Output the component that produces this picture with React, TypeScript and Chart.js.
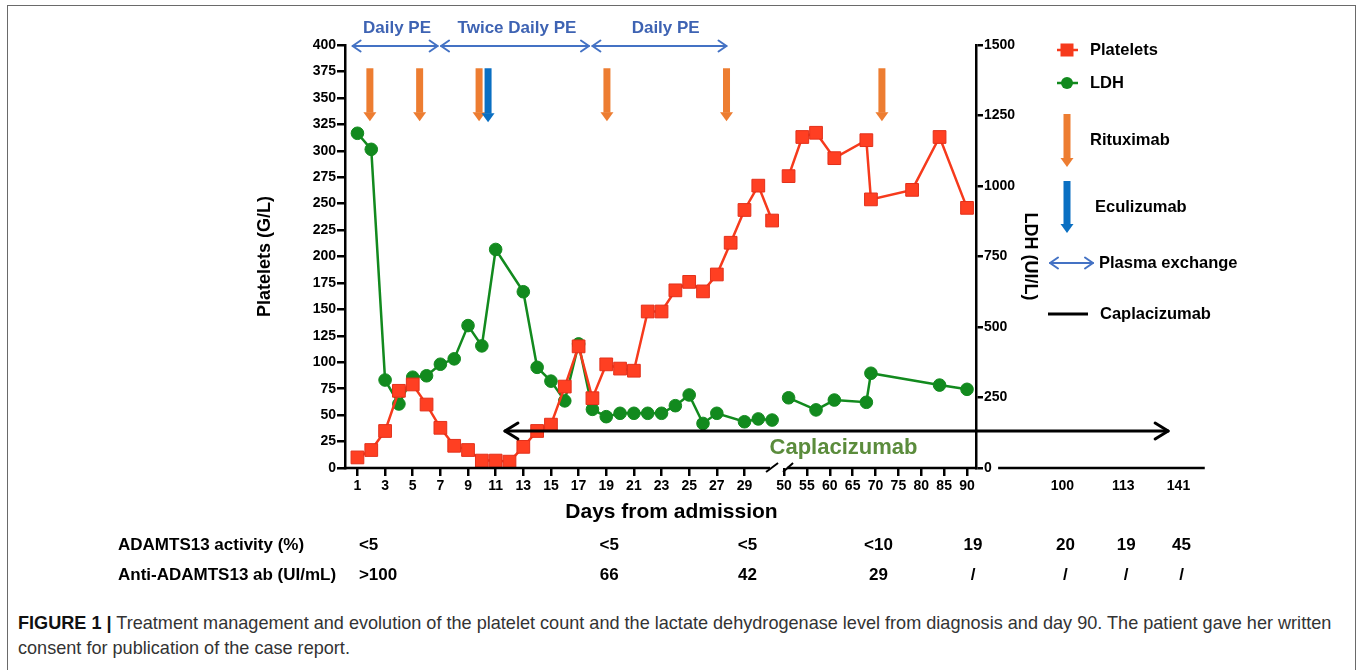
import React, { useEffect, useRef } from "react";
import { Chart, registerables } from "chart.js";

Chart.register(...registerables);

const FONT = '"Liberation Sans", Arial, Helvetica, sans-serif';

// ---------------- data ----------------
const PLT_DAYS = [1, 2, 3, 4, 5, 6, 7, 8, 9, 10, 11, 12, 13, 14, 15, 16, 17, 18, 19, 20, 21, 22, 23, 24, 25, 26, 27, 28, 29, 30, 31, 51, 54, 57, 61, 68, 69, 78, 84, 90];
const PLT_VALUES = [10, 17, 35, 73, 79, 60, 38, 21, 17, 7, 7, 6, 20, 35, 41, 77, 115, 66, 98, 94, 92, 148, 148, 168, 176, 167, 183, 213, 244, 267, 234, 276, 313, 317, 293, 310, 254, 263, 313, 246];
const LDH_DAYS = [1, 2, 3, 4, 5, 6, 7, 8, 9, 10, 11, 13, 14, 15, 16, 17, 18, 19, 20, 21, 22, 23, 24, 25, 26, 27, 29, 30, 31, 51, 57, 61, 68, 69, 84, 90];
const LDH_VALUES = [1187, 1130, 312, 227, 322, 327, 368, 387, 505, 433, 775, 625, 357, 308, 238, 440, 208, 182, 194, 194, 194, 194, 221, 259, 158, 194, 164, 174, 170, 249, 206, 241, 233, 336, 294, 279];

const X_TICK_DAYS = [1, 3, 5, 7, 9, 11, 13, 15, 17, 19, 21, 23, 25, 27, 29, 50, 55, 60, 65, 70, 75, 80, 85, 90];
const EXT_TICK_DAYS = [100, 113, 141];

const RITUXIMAB_DAYS = [1.9, 5.5, 9.8, 19.05, 27.7, 71.4];
const ECULIZUMAB_DAYS = [10.45];

const PE_FROM = [0.65, 7.05, 18.0];
const PE_TO = [6.8, 17.75, 27.7];
const PE_LABELS = ["Daily PE", "Twice Daily PE", "Daily PE"];
const PE_LABEL_DAYS = [3.86, 12.54, 23.3];

const CAPLA_START_DAY = 11.67;

const TABLE_ROW_LABELS = ["ADAMTS13 activity (%)", "Anti-ADAMTS13 ab (UI/mL)"];
const TABLE_DAYS = [1, 19, 29, 70, 90, 100, 113, 141];
const ADAMTS13_ACTIVITY = ["<5", "<5", "<5", "<10", "19", "20", "19", "45"];
const ANTI_ADAMTS13 = [">100", "66", "42", "29", "/", "/", "/", "/"];

// ---------------- axis mapping (broken time axis) ----------------
const LATE_START_U = 31.86;
const LATE_DAY_U = 0.331;
const EXT_U: Record<number, number> = { 100: 52.0, 113: 56.4, 141: 60.4 };
const X_MIN_U = 0.1;
const X_MAX_U = 45.75;
const BREAK_LEFT_U = 30.85;
const BREAK_RIGHT_U = 32.08;
const GAP_U = 31.4;
const EXT_LINE_FROM_U = 47.35;
const EXT_LINE_TO_U = 62.3;
const CAPLA_END_U = 59.65;

function dayToU(d: number): number {
  if (EXT_U[d] !== undefined) return EXT_U[d];
  return d <= 31 ? d : LATE_START_U + (d - 50) * LATE_DAY_U;
}

function buildSeries(days: number[], values: number[]) {
  const pts: { x: number; y: number | null }[] = [];
  days.forEach((d, i) => {
    if (i > 0 && days[i - 1] <= 31 && d >= 50) pts.push({ x: GAP_U, y: null });
    pts.push({ x: dayToU(d), y: values[i] });
  });
  return pts;
}

const RED = "#F63A1C";
const GREEN = "#128A1E";
const ORANGE = "#ED7D31";
const BLUE = "#0A6FC2";
const PE_BLUE = "#4472C4";

function thickArrow(ctx: CanvasRenderingContext2D, x: number, y0: number, y1: number, color: string) {
  const shaftW = 7, headW = 13, headL = 9;
  ctx.fillStyle = color;
  ctx.fillRect(x - shaftW / 2, y0, shaftW, y1 - y0 - headL + 0.5);
  ctx.beginPath();
  ctx.moveTo(x - headW / 2, y1 - headL);
  ctx.lineTo(x + headW / 2, y1 - headL);
  ctx.lineTo(x, y1);
  ctx.closePath();
  ctx.fill();
}

function doubleArrow(ctx: CanvasRenderingContext2D, x1: number, x2: number, y: number, color: string, lw: number, len: number, half: number) {
  ctx.save();
  ctx.strokeStyle = color;
  ctx.lineWidth = lw;
  ctx.lineCap = "round";
  ctx.lineJoin = "round";
  ctx.beginPath();
  ctx.moveTo(x1, y);
  ctx.lineTo(x2, y);
  ctx.stroke();
  ctx.beginPath();
  ctx.moveTo(x1 + len, y - half);
  ctx.lineTo(x1, y);
  ctx.lineTo(x1 + len, y + half);
  ctx.stroke();
  ctx.beginPath();
  ctx.moveTo(x2 - len, y - half);
  ctx.lineTo(x2, y);
  ctx.lineTo(x2 - len, y + half);
  ctx.stroke();
  ctx.restore();
}

const overlayPlugin = {
  id: "overlay",
  afterDraw(chart: any) {
    const { ctx, chartArea: ca } = chart;
    const xs = chart.scales.x;
    const ys = chart.scales.y;
    const XU = (u: number) => xs.getPixelForValue(u);
    const X = (d: number) => xs.getPixelForValue(dayToU(d));
    const Y = (v: number) => ys.getPixelForValue(v);
    ctx.save();

    // broken x axis line
    ctx.strokeStyle = "#000";
    ctx.lineWidth = 2.5;
    const bL = XU(BREAK_LEFT_U);
    const bR = XU(BREAK_RIGHT_U);
    ctx.beginPath();
    ctx.moveTo(ca.left - 1.25, ca.bottom);
    ctx.lineTo(bL, ca.bottom);
    ctx.moveTo(bR, ca.bottom);
    ctx.lineTo(ca.right + 1.25, ca.bottom);
    ctx.stroke();
    ctx.lineWidth = 2;
    ctx.beginPath();
    ctx.moveTo(bL - 4, ca.bottom + 4);
    ctx.lineTo(bL + 8, ca.bottom - 5);
    ctx.moveTo(bR - 4, ca.bottom + 4);
    ctx.lineTo(bR + 6, ca.bottom - 5);
    ctx.stroke();

    // extended time line beyond day 90
    ctx.lineWidth = 2.5;
    ctx.beginPath();
    ctx.moveTo(XU(EXT_LINE_FROM_U), ca.bottom);
    ctx.lineTo(XU(EXT_LINE_TO_U), ca.bottom);
    ctx.stroke();
    ctx.fillStyle = "#000";
    ctx.font = `bold 14px ${FONT}`;
    ctx.textAlign = "center";
    ctx.textBaseline = "middle";
    EXT_TICK_DAYS.forEach((d) => ctx.fillText(String(d), X(d), ca.bottom + 18.5));

    // x title
    ctx.font = `bold 21px ${FONT}`;
    ctx.fillText("Days from admission", (ca.left + ca.right) / 2 + 11, ca.bottom + 44);

    // caplacizumab arrow
    const cy = Y(35);
    doubleArrow(ctx, X(CAPLA_START_DAY), XU(CAPLA_END_U), cy, "#000", 3, 13, 8);
    ctx.fillStyle = "#5B8C3C";
    ctx.font = `bold 22px ${FONT}`;
    ctx.textAlign = "center";
    ctx.fillText("Caplacizumab", X(63), Y(19));

    // plasma exchange periods
    PE_FROM.forEach((f, i) => {
      doubleArrow(ctx, X(f), X(PE_TO[i]), ca.top + 1, PE_BLUE, 2, 8, 5.5);
    });
    ctx.fillStyle = "#3E63B3";
    ctx.font = `bold 17px ${FONT}`;
    PE_LABELS.forEach((t, i) => ctx.fillText(t, X(PE_LABEL_DAYS[i]), ca.top - 17));

    // treatment arrows
    RITUXIMAB_DAYS.forEach((d) => thickArrow(ctx, X(d), Y(378), Y(328), ORANGE));
    ECULIZUMAB_DAYS.forEach((d) => thickArrow(ctx, X(d), Y(378), Y(327), BLUE));

    // legend
    const lx = ca.right + 91;
    const tx = ca.right + 114;
    ctx.lineWidth = 2.5;
    ctx.strokeStyle = RED;
    ctx.beginPath();
    ctx.moveTo(lx - 10, ca.top + 5);
    ctx.lineTo(lx + 11, ca.top + 5);
    ctx.stroke();
    ctx.fillStyle = RED;
    ctx.fillRect(lx - 6.5, ca.top + 5 - 6.5, 13, 13);
    ctx.strokeStyle = GREEN;
    ctx.beginPath();
    ctx.moveTo(lx - 10, ca.top + 38);
    ctx.lineTo(lx + 11, ca.top + 38);
    ctx.stroke();
    ctx.fillStyle = GREEN;
    ctx.beginPath();
    ctx.arc(lx, ca.top + 38, 6, 0, Math.PI * 2);
    ctx.fill();
    thickArrow(ctx, lx, ca.top + 69, ca.top + 122, ORANGE);
    thickArrow(ctx, lx, ca.top + 136, ca.top + 188, BLUE);
    doubleArrow(ctx, lx - 17, lx + 26, ca.top + 218, PE_BLUE, 2, 8, 5.5);
    ctx.strokeStyle = "#000";
    ctx.lineWidth = 3;
    ctx.beginPath();
    ctx.moveTo(lx - 19, ca.top + 269);
    ctx.lineTo(lx + 21, ca.top + 269);
    ctx.stroke();

    ctx.fillStyle = "#000";
    ctx.font = `bold 16.5px ${FONT}`;
    ctx.textAlign = "left";
    ctx.fillText("Platelets", tx, ca.top + 5);
    ctx.fillText("LDH", tx, ca.top + 38);
    ctx.fillText("Rituximab", tx, ca.top + 95);
    ctx.fillText("Eculizumab", tx + 5, ca.top + 162);
    ctx.fillText("Plasma exchange", tx + 9, ca.top + 218);
    ctx.fillText("Caplacizumab", tx + 10, ca.top + 269);

    // table under the axis
    ctx.font = `bold 17px ${FONT}`;
    const rowY = [ca.bottom + 77, ca.bottom + 107];
    TABLE_ROW_LABELS.forEach((t, i) => {
      ctx.textAlign = "left";
      ctx.fillText(t, 118, rowY[i]);
    });
    [ADAMTS13_ACTIVITY, ANTI_ADAMTS13].forEach((row, r) => {
      row.forEach((v, i) => {
        if (i === 0) {
          ctx.textAlign = "left";
          ctx.fillText(v, X(TABLE_DAYS[i]) + 1.5, rowY[r]);
        } else {
          ctx.textAlign = "center";
          ctx.fillText(v, X(TABLE_DAYS[i]) + (TABLE_DAYS[i] === 90 ? 6 : 3), rowY[r]);
        }
      });
    });
    ctx.restore();
  },
};

export default function App() {
  const canvasRef = useRef<HTMLCanvasElement | null>(null);

  useEffect(() => {
    const canvas = canvasRef.current;
    if (!canvas) return;
    const tickFont = { family: FONT, size: 14, weight: "bold" as const };
    const titleFont = { family: FONT, size: 18, weight: "bold" as const };
    const chart = new Chart(canvas, {
      type: "line",
      data: {
        datasets: [
          {
            label: "Platelets",
            data: buildSeries(PLT_DAYS, PLT_VALUES) as any,
            yAxisID: "y",
            borderColor: RED,
            borderWidth: 2.5,
            pointStyle: "rect",
            pointRadius: 9,
            pointBackgroundColor: "#FF3F22",
            pointBorderColor: "#E3301A",
            pointBorderWidth: 1,
            tension: 0,
            spanGaps: false,
          },
          {
            label: "LDH",
            data: buildSeries(LDH_DAYS, LDH_VALUES) as any,
            yAxisID: "y1",
            borderColor: GREEN,
            borderWidth: 2.5,
            pointStyle: "circle",
            pointRadius: 6.3,
            pointBackgroundColor: GREEN,
            pointBorderColor: GREEN,
            pointBorderWidth: 1,
            tension: 0,
            spanGaps: false,
          },
        ],
      },
      options: {
        responsive: false,
        animation: false,
        devicePixelRatio: 1,
        layout: { padding: { left: 250, right: 312, top: 45, bottom: 73 } },
        plugins: { legend: { display: false }, tooltip: { enabled: false } },
        scales: {
          x: {
            type: "linear",
            min: X_MIN_U,
            max: X_MAX_U,
            afterBuildTicks: (scale: any) => {
              scale.ticks = X_TICK_DAYS.map((d) => ({ value: dayToU(d) }));
            },
            afterFit: (scale: any) => {
              scale.height = 59;
            },
            ticks: {
              autoSkip: false,
              maxRotation: 0,
              color: "#000",
              font: tickFont,
              padding: 2,
              callback: (_v: any, i: number) => String(X_TICK_DAYS[i]),
            },
            grid: { drawOnChartArea: false, drawTicks: true, tickLength: 8, lineWidth: 2.5, color: "#000" },
            border: { display: false },
          },
          y: {
            position: "left",
            min: 0,
            max: 400,
            afterFit: (scale: any) => {
              scale.width = 95;
            },
            ticks: { stepSize: 25, autoSkip: false, color: "#000", font: tickFont, padding: 1, callback: (v: any) => String(v) },
            grid: { drawOnChartArea: false, drawTicks: true, tickLength: 8, lineWidth: 2.5, color: "#000" },
            border: { display: true, width: 2.5, color: "#000" },
            title: { display: true, text: "Platelets (G/L)", color: "#000", font: titleFont, padding: { top: 4, bottom: 4 } },
          },
          y1: {
            position: "right",
            min: 0,
            max: 1500,
            afterFit: (scale: any) => {
              scale.width = 69;
            },
            ticks: { stepSize: 250, autoSkip: false, color: "#000", font: tickFont, padding: 1, callback: (v: any) => String(v) },
            grid: { drawOnChartArea: false, drawTicks: true, tickLength: 7, lineWidth: 2.5, color: "#000" },
            border: { display: true, width: 2.5, color: "#000" },
            title: { display: true, text: "LDH (UI/L)", color: "#000", font: titleFont, padding: { top: 4, bottom: 4 } },
          },
        },
      },
      plugins: [overlayPlugin],
    } as any);
    return () => chart.destroy();
  }, []);

  return (
    <div style={{ position: "absolute", left: 0, top: 0, width: 1357, height: 670, overflow: "hidden", background: "#fff" }}>
      <div
        style={{
          position: "absolute",
          left: 7,
          top: 5,
          width: 1349,
          height: 720,
          border: "1.5px solid #6a6a6a",
          boxSizing: "border-box",
        }}
      />
      <canvas ref={canvasRef} width={1357} height={600} style={{ position: "absolute", left: 0, top: 0, width: 1357, height: 600 }} />
      <div
        style={{
          position: "absolute",
          left: 18,
          top: 611,
          fontFamily: FONT,
          fontSize: 18.1,
          lineHeight: "25px",
          color: "#333",
          whiteSpace: "nowrap",
        }}
      >
        <b style={{ color: "#111" }}>FIGURE 1 |</b> Treatment management and evolution of the platelet count and the lactate dehydrogenase level from diagnosis and day 90. The patient gave her written
        <br />
        consent for publication of the case report.
      </div>
    </div>
  );
}
